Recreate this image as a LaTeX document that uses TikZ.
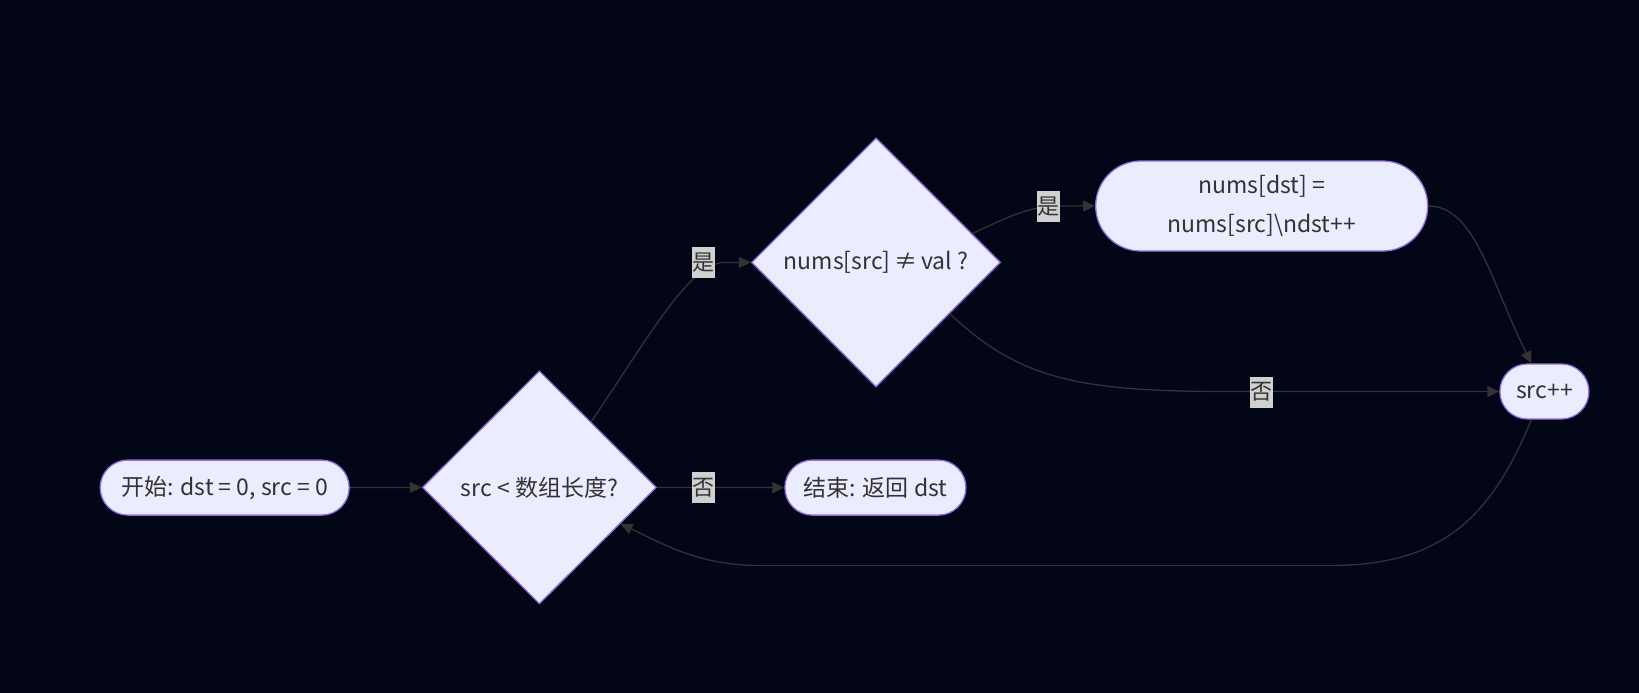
\documentclass[tikz,border=0pt]{standalone}
\usepackage{fontspec}
\setmainfont{Noto Sans CJK SC}
\usetikzlibrary{shapes.geometric,arrows.meta,calc}
\definecolor{bg}{HTML}{020617}
\definecolor{nodefill}{HTML}{ECECFF}
\definecolor{nodeborder}{HTML}{9370DB}
\definecolor{edgecol}{HTML}{333333}
\definecolor{lblfill}{HTML}{D0D0D0}
\definecolor{txt}{HTML}{333333}
\begin{document}
\begin{tikzpicture}[x=1pt,y=-1pt,
 base/.style={draw=nodeborder, fill=nodefill, line width=1.3pt, text=txt, font=\fontsize{23}{33.4}\selectfont, inner sep=0pt, align=center},
 stadium/.style={base, rectangle, rounded corners=27.5pt, minimum height=55pt},
 decision/.style={base, diamond},
 edge/.style={draw=edgecol, line width=1.3pt, -{Triangle[length=12pt,width=11pt]}},
 lbl/.style={fill=lblfill, text=txt, font=\fontsize{22}{24}\selectfont, inner sep=0pt, minimum width=23pt, minimum height=31pt}
]
\fill[bg] (0,0) rectangle (1639,693);
\useasboundingbox (0,0) rectangle (1639,693);

\node[stadium, minimum width=249pt] (start) at (224.7,487.6) {开始: dst = 0, src = 0};
\node[decision, minimum width=234pt, minimum height=233pt] (d1) at (539.4,487.4) {src < 数组长度?};
\node[decision, minimum width=249pt, minimum height=249pt] (d2) at (876,262.4) {nums[src]\,≠\,val ?};
\node[stadium, minimum width=332pt, minimum height=90pt, rounded corners=45pt] (upd) at (1261.7,206) {nums[dst] =\\[5pt]nums[src]\textbackslash ndst++};
\node[stadium, minimum width=89pt] (inc) at (1544.4,391.5) {src++};
\node[stadium, minimum width=181pt] (end) at (875.4,487.6) {结束: 返回 dst};

\coordinate (d1ne) at ($(d1.north)!0.44!(d1.east)$);
\coordinate (d2ne) at ($(d2.north)!0.77!(d2.east)$);
\coordinate (d2se) at ($(d2.east)!0.41!(d2.south)$);
\coordinate (d1se) at ($(d1.east)!0.31!(d1.south)$);
\coordinate (incn) at ([xshift=-13pt]inc.north);
\coordinate (incs) at ([xshift=-13pt]inc.south);

\draw[edge] (start.east) -- (d1.west);
\draw[edge] (d1ne) .. controls (650,335) and (690,262.4) .. (725,262.4) -- (d2.west);
\draw[edge] (d2ne) .. controls (1010,216) and (1030,206) .. (1060,206) -- (upd.west);
\draw[edge] (d2se) .. controls (1020,380) and (1080,391.5) .. (1230,391.5) -- (inc.west);
\draw[edge] (upd.east) .. controls (1475,206) and (1490,280) .. (incn);
\draw[edge] (incs) .. controls (1490,520) and (1440,565.5) .. (1330,565.5) -- (760,565.5) .. controls (700,565.5) and (665,545) .. (d1se);
\draw[edge] (d1.east) -- (end.west);

\node[lbl] (l1) at (703.5,262.4) {是};
\node[lbl] (l2) at (1048.5,206.5) {是};
\node[lbl] (l3) at (1261.7,392) {否};
\node[lbl] (l4) at (703.5,487.6) {否};
\end{tikzpicture}
\end{document}
